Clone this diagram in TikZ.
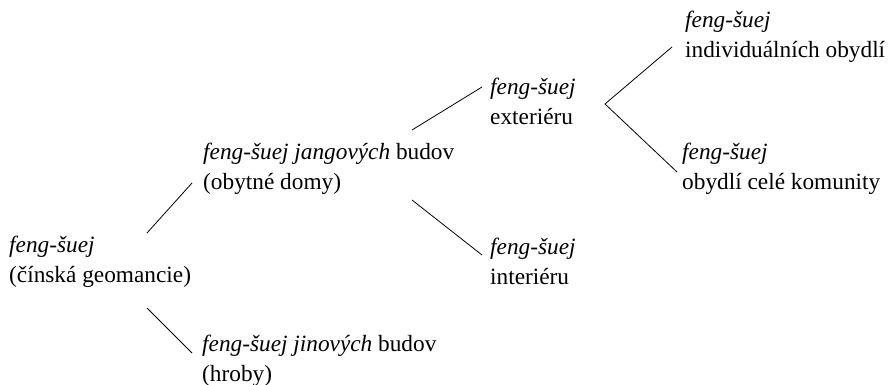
\documentclass[tikz,border=0pt]{standalone}
\usepackage{fontspec}
\setmainfont{Liberation Serif}[ItalicFont={Liberation Serif Italic}]
\tikzset{
  lbl/.style={inner sep=0pt, anchor=base west, font=\fontsize{23.3}{30}\selectfont},
  conn/.style={draw=black, line width=0.8pt}
}
\newcommand{\twolines}[2]{\vtop{\hbox{#1}\hbox{#2}}}
\begin{document}
\begin{tikzpicture}[x=1pt,y=-1pt]
\useasboundingbox (0,0) rectangle (891,385);
\node[lbl] (root) at (9,252) {\twolines{\textit{feng-šuej}}{(čínská geomancie)}};
\node[lbl] (jang) at (203,159) {\twolines{\textit{feng-šuej jangových} budov}{(obytné domy)}};
\node[lbl] (jin) at (202,351) {\twolines{\textit{feng-šuej jinových} budov}{(hroby)}};
\node[lbl] (ext) at (490,95) {\twolines{\textit{feng-šuej}}{exteriéru}};
\node[lbl] (int) at (490,254) {\twolines{\textit{feng-šuej}}{interiéru}};
\node[lbl] (ind) at (685,28) {\twolines{\textit{feng-šuej}}{individuálních obydlí}};
\node[lbl] (kom) at (682,159) {\twolines{\textit{feng-šuej}}{obydlí celé komunity}};
% connector end points
\coordinate (rootU) at (147,233);
\coordinate (jangL) at (192,183);
\coordinate (rootD) at (147,308);
\coordinate (jinL) at (192,353);
\coordinate (jangU) at (412,130);
\coordinate (extL) at (482,87);
\coordinate (jangD) at (412,200);
\coordinate (intL) at (482,255);
\coordinate (extV) at (605,104);
\coordinate (indL) at (672,47);
\coordinate (komL) at (677,172);
\draw[conn] (rootU) -- (jangL);
\draw[conn] (rootD) -- (jinL);
\draw[conn] (jangU) -- (extL);
\draw[conn] (jangD) -- (intL);
\draw[conn] (indL) -- (extV) -- (komL);
\end{tikzpicture}
\end{document}
